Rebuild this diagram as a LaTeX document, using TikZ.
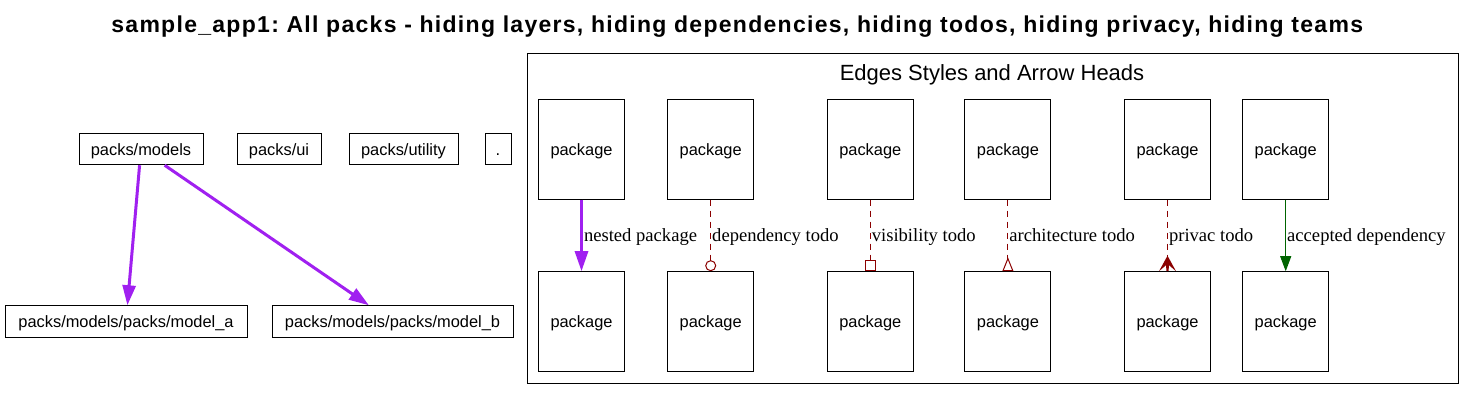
\documentclass[tikz,border=0pt]{standalone}
\usepackage{fontspec}
\setmainfont{Liberation Serif}
\setsansfont{Liberation Sans}
\newfontfamily\titlefont[LetterSpace=5.6]{Liberation Sans}
\usepackage{tikz}
\usetikzlibrary{arrows.meta}
\definecolor{nestpurple}{HTML}{A020F0}
\definecolor{tododarkred}{HTML}{8B0000}
\definecolor{okgreen}{HTML}{006400}
\frenchspacing
\tikzset{
  packbox/.style={draw, line width=1pt, font=\sffamily\fontsize{16.4}{19}\selectfont,
    inner sep=0pt, text height=12pt, text depth=0pt, minimum height=31.5pt},
  pkgbox/.style={packbox, minimum width=86pt, minimum height=100pt},
  edgelabel/.style={font=\fontsize{18.6}{22}\selectfont, inner sep=1pt,
    text height=12.5pt, text depth=0pt},
  nested/.style={nestpurple, line width=3pt, -{Triangle[length=20pt,width=13pt]}},
  todo/.style={tododarkred, line width=1pt, dash pattern=on 6pt off 5pt},
  accepted/.style={okgreen, line width=1pt, -{Triangle[length=15pt,width=11pt]}},
}

\begin{document}
\begin{tikzpicture}[x=1pt, y=-1pt]
            \useasboundingbox (0,0) rectangle (1475,400);
            \node[font=\titlefont\bfseries\fontsize{23}{27}\selectfont, inner sep=0pt,
              text height=16.3pt, text depth=0pt] (title) at (737.2,24.4)
              {sample\_app1: All packs - hiding layers, hiding dependencies, hiding todos, hiding privacy, hiding teams};

            % packs
            \node[packbox, minimum width=124pt] (models) at (141,149) {packs/models};
            \node[packbox, minimum width=84pt] (ui) at (279,149) {packs/ui};
            \node[packbox, minimum width=109pt] (utility) at (403.5,149) {packs/utility};
            \node[packbox, minimum width=26pt] (root) at (498,149) {.};
            \node[packbox, minimum width=242pt] (modela) at (126,321.5) {packs/models/packs/model\_a};
            \node[packbox, minimum width=241pt] (modelb) at (392.5,321.5) {packs/models/packs/model\_b};
            \draw[nested] (models) -- (modela);
            \draw[nested] (models) -- (modelb);

            % legend
            \draw[line width=1pt] (527,53.5) rectangle (1458,383);
            \node[font=\sffamily\fontsize{22}{26}\selectfont, inner sep=0pt,
              text height=15.5pt, text depth=0pt] (legend) at (992,73) {Edges Styles and Arrow Heads};
            \node[pkgbox] (nesta) at (581.5,149) {package};
            \node[pkgbox] (nestb) at (581.5,321.7) {package};
            \node[pkgbox] (depa) at (710.7,149) {package};
            \node[pkgbox] (depb) at (710.7,321.7) {package};
            \node[pkgbox] (visa) at (870.3,149) {package};
            \node[pkgbox] (visb) at (870.3,321.7) {package};
            \node[pkgbox] (archa) at (1007.9,149) {package};
            \node[pkgbox] (archb) at (1007.9,321.7) {package};
            \node[pkgbox] (priva) at (1167.5,149) {package};
            \node[pkgbox] (privb) at (1167.5,321.7) {package};
            \node[pkgbox] (acca) at (1285.7,149) {package};
            \node[pkgbox] (accb) at (1285.7,321.7) {package};

            \draw[nested] (nesta) -- (nestb) node[midway, right, edgelabel, black] {nested package};
            \draw[todo, -{Circle[open, length=11pt]}] (depa) -- (depb) node[midway, right, edgelabel, black] {dependency todo};
            \draw[todo, -{Square[open, length=11.5pt]}] (visa) -- (visb) node[midway, right, edgelabel, black] {visibility todo};
            \draw[todo, -{Triangle[open, reversed, length=14pt, width=11pt]}] (archa) -- (archb) node[midway, right, edgelabel, black] {architecture todo};
            \draw[todo] (priva) -- (privb) node[midway, right, edgelabel, black] {privac todo};
            \fill[tododarkred] (privb.north) ++(0,-15.5) -- ++(-8.5,15.5) -- ++(7,-6) -- ++(0.5,6)
              -- ++(2,0) -- ++(0.5,-6) -- ++(7,6) -- cycle;
            \draw[accepted] (acca) -- (accb) node[midway, right, edgelabel, black] {accepted dependency};
        \end{tikzpicture}
\end{document}
